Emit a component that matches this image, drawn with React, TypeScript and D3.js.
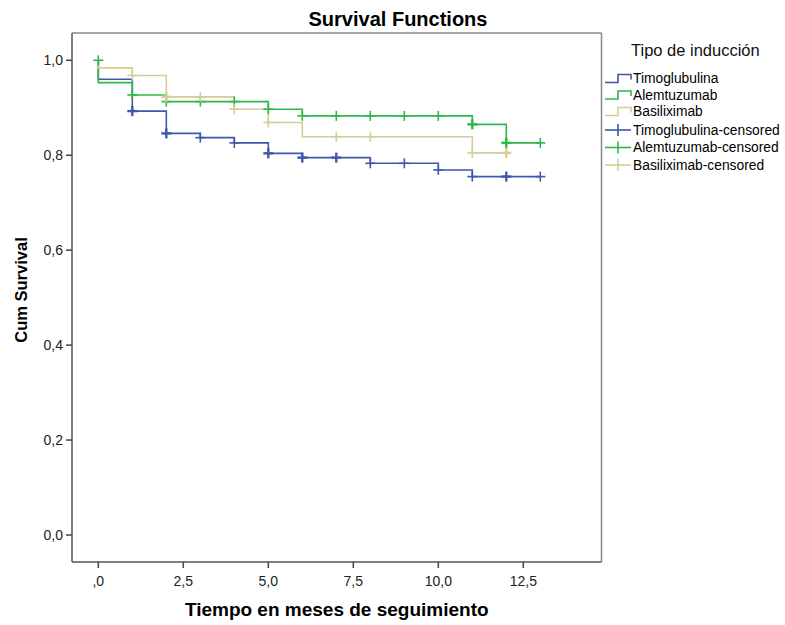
import React from "react";
import * as d3 from "d3";

// ---------- data ----------
const groups = ["Timoglubulina", "Alemtuzumab", "Basiliximab"];
const groupColors = ["#3E58AC", "#2EB848", "#D3CE97"];

// [time (months), cumulative survival] at each event step
const timoEvents: [number, number][] = [
  [0, 0.96], [1, 0.893], [2, 0.846], [3, 0.837], [4, 0.826],
  [5, 0.804], [6, 0.795], [8, 0.783], [10, 0.769], [11, 0.755],
];
const alemEvents: [number, number][] = [
  [0, 0.953], [1, 0.927], [2, 0.913], [5, 0.897], [6, 0.883],
  [11, 0.865], [12, 0.826],
];
const basiEvents: [number, number][] = [
  [0, 0.984], [1, 0.968], [2, 0.923], [4, 0.897], [5, 0.869],
  [6, 0.839], [11, 0.805],
];
const lastTimes = [13, 13, 12];

// censored marks: [time, survival, count]
const timoCensored: [number, number, number][] = [
  [1, 0.893, 2], [2, 0.846, 2], [3, 0.837, 1], [4, 0.826, 1], [5, 0.804, 2],
  [6, 0.795, 2], [7, 0.795, 2], [8, 0.783, 1], [9, 0.783, 1], [10, 0.769, 1],
  [11, 0.755, 1], [12, 0.755, 2], [13, 0.755, 1],
];
const alemCensored: [number, number, number][] = [
  [0, 1.0, 1], [1, 0.927, 1], [2, 0.913, 1], [3, 0.913, 1], [4, 0.913, 1],
  [5, 0.897, 1], [6, 0.883, 1], [7, 0.883, 1], [8, 0.883, 1], [9, 0.883, 1],
  [10, 0.883, 1], [11, 0.865, 2], [12, 0.826, 2], [13, 0.826, 1],
];
const basiCensored: [number, number, number][] = [
  [1, 0.968, 1], [2, 0.923, 2], [3, 0.923, 1], [4, 0.897, 1], [5, 0.869, 1],
  [7, 0.839, 1], [8, 0.839, 1], [11, 0.805, 1], [12, 0.805, 2],
];

const xTicks = [0, 2.5, 5, 7.5, 10, 12.5];
const xTickLabels = [",0", "2,5", "5,0", "7,5", "10,0", "12,5"];
const yTicks = [0, 0.2, 0.4, 0.6, 0.8, 1.0];
const yTickLabels = ["0,0", "0,2", "0,4", "0,6", "0,8", "1,0"];

const legendLabels = [
  "Timoglubulina", "Alemtuzumab", "Basiliximab",
  "Timoglubulina-censored", "Alemtuzumab-censored", "Basiliximab-censored",
];

const allEvents = [timoEvents, alemEvents, basiEvents];
const allCensored = [timoCensored, alemCensored, basiCensored];

// ---------- layout ----------
const W = 785, H = 625;
const frame = { left: 72, right: 601.5, top: 33, bottom: 562 };
const FONT = "Arial, 'Liberation Sans', sans-serif";

export default function App() {
  const x = d3.scaleLinear().domain([-0.774, 14.8]).range([frame.left, frame.right]);
  const y = d3.scaleLinear().domain([-0.0569, 1.0575]).range([frame.bottom, frame.top]);

  const line = d3
    .line<[number, number]>()
    .x((d) => x(d[0]))
    .y((d) => y(d[1]))
    .curve(d3.curveStepAfter);

  const paths = allEvents.map((ev, i) => {
    const pts: [number, number][] = [[0, 1], ...ev, [lastTimes[i], ev[ev.length - 1][1]]];
    return line(pts) as string;
  });

  const cs = 5;
  const legendRowsY = [78.5, 95, 111.5, 130, 147.5, 165];

  return (
    <svg
      width={W}
      height={H}
      style={{ position: "absolute", left: 0, top: 0, background: "#fff" }}
      fontFamily={FONT}
    >
      <rect x={0} y={0} width={W} height={H} fill="#fff" />
      {/* title */}
      <text x={398} y={26} textAnchor="middle" fontSize={20} fontWeight="bold" fill="#000">
        Survival Functions
      </text>

      {/* frame */}
      <line x1={frame.left} x2={frame.right} y1={frame.top} y2={frame.top} stroke="#888" strokeWidth={1.5} />
      <line x1={frame.right} x2={frame.right} y1={frame.top} y2={frame.bottom} stroke="#888" strokeWidth={1.5} />
      <line x1={frame.left} x2={frame.left} y1={frame.top} y2={frame.bottom} stroke="#555" strokeWidth={1.5} />
      <line x1={frame.left} x2={frame.right} y1={frame.bottom} y2={frame.bottom} stroke="#555" strokeWidth={1.5} />

      {/* y ticks */}
      {yTicks.map((t, i) => (
        <g key={"y" + i}>
          <line x1={frame.left - 6} x2={frame.left} y1={y(t)} y2={y(t)} stroke="#444" strokeWidth={1.5} />
          <text x={frame.left - 9} y={y(t)} dy="0.35em" textAnchor="end" fontSize={14} fill="#222">
            {yTickLabels[i]}
          </text>
        </g>
      ))}
      {/* x ticks */}
      {xTicks.map((t, i) => (
        <g key={"x" + i}>
          <line x1={x(t)} x2={x(t)} y1={frame.bottom} y2={frame.bottom + 6} stroke="#444" strokeWidth={1.5} />
          <text x={x(t)} y={586} textAnchor="middle" fontSize={14} fill="#222">
            {xTickLabels[i]}
          </text>
        </g>
      ))}

      {/* axis titles */}
      <text x={(frame.left + frame.right) / 2} y={616} textAnchor="middle" fontSize={19} fontWeight="bold" fill="#000">
        Tiempo en meses de seguimiento
      </text>
      <text
        transform={`translate(27, 290) rotate(-90)`}
        textAnchor="middle"
        fontSize={16.5}
        fontWeight="bold"
        fill="#000"
      >
        Cum Survival
      </text>

      {/* curves */}
      {paths.map((p, i) => (
        <path key={"p" + i} d={p} fill="none" stroke={groupColors[i]} strokeWidth={1.6} />
      ))}
      {/* censored marks */}
      {allCensored.map((arr, i) =>
        arr.map((c, j) => (
          <g key={`c${i}-${j}`} stroke={groupColors[i]} strokeWidth={c[2] > 1 ? 2.4 : 1.6}>
            <line x1={x(c[0]) - cs} x2={x(c[0]) + cs} y1={y(c[1])} y2={y(c[1])} />
            <line x1={x(c[0])} x2={x(c[0])} y1={y(c[1]) - cs} y2={y(c[1]) + cs} />
          </g>
        ))
      )}

      {/* legend */}
      <text x={631} y={56} fontSize={16.5} fill="#111">
        Tipo de inducción
      </text>
      {legendLabels.map((lab, i) => {
        const cy = legendRowsY[i];
        const col = groupColors[i % 3];
        return (
          <g key={"l" + i}>
            {i < 3 ? (
              <path
                d={`M605,${cy + 4}H618V${cy - 4}H631V${cy + 1}`}
                fill="none"
                stroke={col}
                strokeWidth={1.6}
              />
            ) : (
              <g stroke={col} strokeWidth={1.6}>
                <line x1={605} x2={631} y1={cy} y2={cy} />
                <line x1={618} x2={618} y1={cy - 6} y2={cy + 6} />
              </g>
            )}
            <text x={633} y={cy} dy="0.35em" fontSize={13.8} fill="#000">
              {lab}
            </text>
          </g>
        );
      })}
    </svg>
  );
}
